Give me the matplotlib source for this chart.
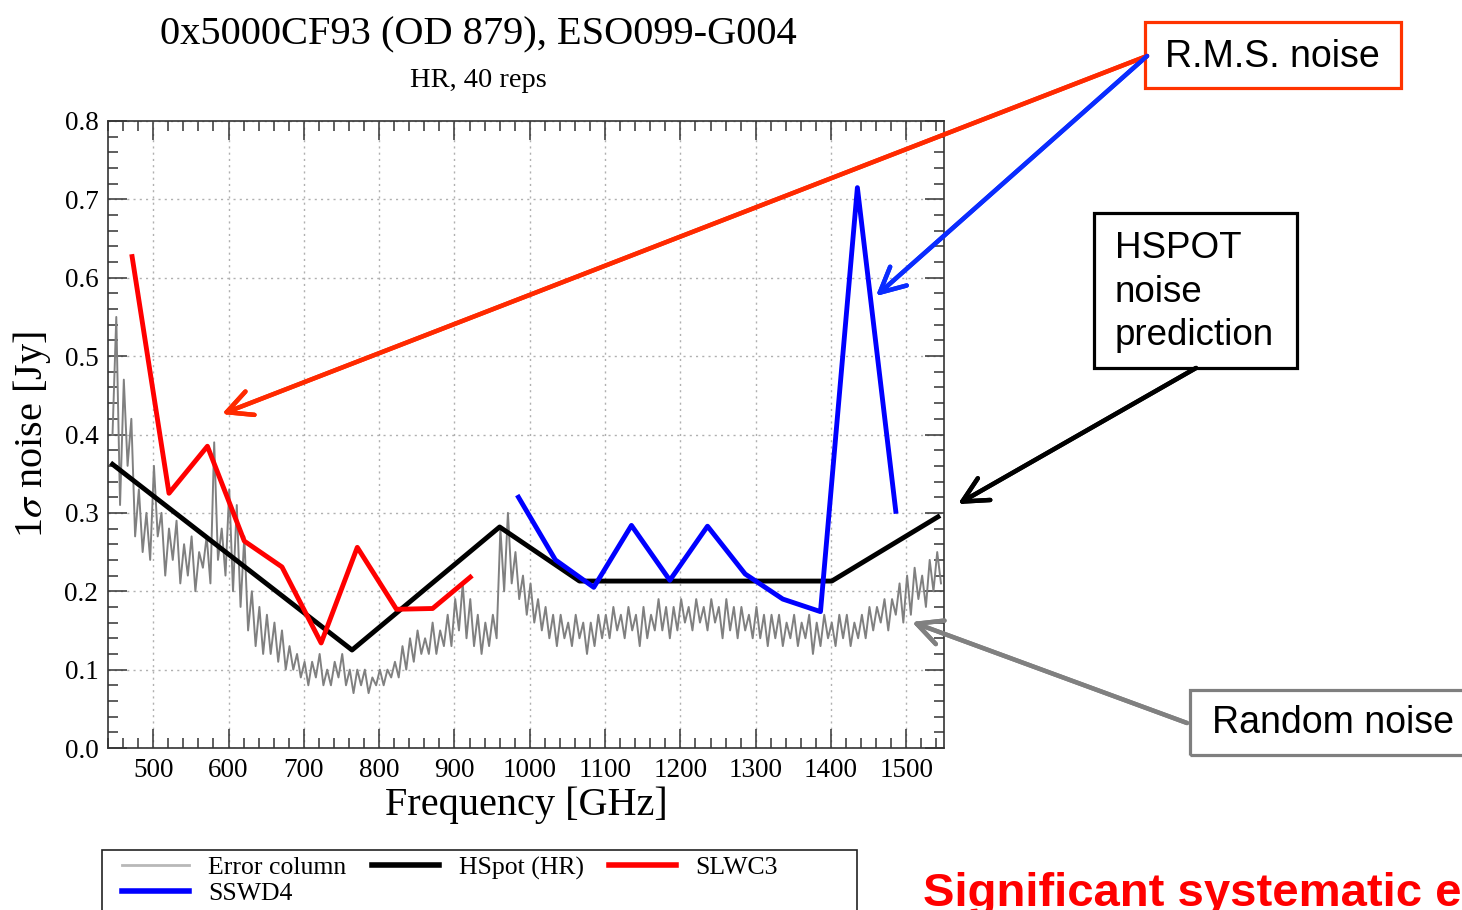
import matplotlib
matplotlib.use("Agg")
import matplotlib.pyplot as plt
from matplotlib.lines import Line2D
from matplotlib.patches import Rectangle
import numpy as np

plt.rcParams['font.family'] = ['Liberation Serif', 'DejaVu Serif']
plt.rcParams['mathtext.fontset'] = 'stix'

W, H = 1462, 910

# error column (random noise), every 5 GHz from 446 to 1546 GHz
err_noise = [
    0.40, 0.55, 0.31, 0.47, 0.36, 0.42, 0.27, 0.33, 0.25, 0.30, 0.24,
    0.36, 0.27, 0.30, 0.22, 0.28, 0.24, 0.29, 0.21, 0.26, 0.22, 0.27, 0.20, 0.25, 0.23, 0.27, 0.21, 0.39, 0.24, 0.28, 0.22,
    0.33, 0.20, 0.31, 0.18, 0.27, 0.15, 0.20, 0.13, 0.18, 0.12, 0.17, 0.12, 0.16, 0.11, 0.15, 0.10, 0.13, 0.10, 0.12, 0.09,
    0.11, 0.08, 0.11, 0.09, 0.12, 0.08, 0.10, 0.08, 0.11, 0.09, 0.12, 0.08, 0.10, 0.07, 0.10, 0.08, 0.10, 0.07, 0.09, 0.08,
    0.10, 0.08, 0.10, 0.09, 0.11, 0.09, 0.13, 0.10, 0.14, 0.11, 0.15, 0.12, 0.14, 0.12, 0.16, 0.12, 0.15, 0.13, 0.17, 0.13,
    0.19, 0.15, 0.21, 0.14, 0.19, 0.13, 0.17, 0.12, 0.16, 0.13, 0.17, 0.14, 0.28, 0.20, 0.30, 0.21, 0.25, 0.19, 0.22, 0.17,
    0.21, 0.16, 0.19, 0.15, 0.18, 0.14, 0.17, 0.13, 0.17, 0.14, 0.16, 0.13, 0.17, 0.14, 0.16, 0.12, 0.16, 0.13, 0.17, 0.14,
    0.17, 0.14, 0.18, 0.15, 0.17, 0.14, 0.18, 0.15, 0.17, 0.13, 0.18, 0.14, 0.17, 0.15, 0.19, 0.15, 0.18, 0.14, 0.18, 0.15,
    0.19, 0.16, 0.18, 0.15, 0.19, 0.16, 0.18, 0.15, 0.19, 0.16, 0.18, 0.14, 0.19, 0.15, 0.18, 0.14, 0.18, 0.15, 0.17, 0.14,
    0.18, 0.14, 0.17, 0.13, 0.17, 0.14, 0.17, 0.13, 0.16, 0.14, 0.17, 0.13, 0.16, 0.14, 0.17, 0.12, 0.16, 0.13, 0.17, 0.14,
    0.16, 0.13, 0.17, 0.14, 0.17, 0.13, 0.16, 0.14, 0.17, 0.14, 0.18, 0.15, 0.18, 0.16, 0.19, 0.15, 0.19, 0.17, 0.21, 0.16,
    0.22, 0.17, 0.23, 0.19, 0.22, 0.18, 0.24, 0.20, 0.25, 0.21,
]
err_freq = np.linspace(446, 1546, len(err_noise))

hspot_freq = [446, 764, 960, 1066, 1401, 1542]
hspot_noise = [0.362, 0.125, 0.282, 0.213, 0.213, 0.295]

slw_freq = [472, 521, 572, 621, 671, 723, 771, 823, 871, 921]
slw_noise = [0.627, 0.325, 0.385, 0.264, 0.231, 0.134, 0.256, 0.177, 0.178, 0.218]

ssw_freq = [985, 1034, 1085, 1135, 1186, 1236, 1286, 1336, 1386, 1435, 1486]
ssw_noise = [0.32, 0.24, 0.205, 0.284, 0.214, 0.283, 0.222, 0.19, 0.174, 0.715, 0.302]


def fx(px):
    return px / W


def fy(py):
    return 1 - py / H


fig = plt.figure(figsize=(W / 100, H / 100), dpi=100)
ax = fig.add_axes([fx(108), fy(748), (944 - 108) / W, (748 - 121) / H])

ax.plot(err_freq, err_noise, color='#808080', lw=1.4, zorder=2)
ax.plot(hspot_freq, hspot_noise, color='black', lw=3.5, zorder=3)
ax.plot(slw_freq, slw_noise, color='#ff0000', lw=3.5, zorder=4)
ax.plot(ssw_freq, ssw_noise, color='#0000ff', lw=3.5, zorder=5)

ax.set_xlim(440, 1550)
ax.set_ylim(0, 0.8)
ax.set_xticks(np.arange(500, 1501, 100))
ax.set_xticks(np.arange(440, 1551, 20), minor=True)
ax.set_yticks(np.arange(0, 0.81, 0.1))
ax.set_yticks(np.arange(0, 0.81, 0.02), minor=True)
ax.set_yticklabels(['%.1f' % v for v in np.arange(0, 0.81, 0.1)])
ax.tick_params(which='both', direction='in', top=True, right=True,
               labelsize=19.5, color='#333333')
ax.tick_params(which='major', length=14, width=1.1, pad=7)
ax.tick_params(which='minor', length=7, width=1.1)
ax.grid(True, which='major', ls=(0, (1.5, 3)), color='#b0b0b0', lw=1)
for s in ax.spines.values():
    s.set_linewidth(1.2)
    s.set_color('#333333')

ax.set_xlabel('Frequency [GHz]', fontsize=29, labelpad=3)
ax.set_ylabel(r'1$\sigma$ noise [Jy]', fontsize=29, labelpad=8)

fig.text(fx(478), fy(44), '0x5000CF93 (OD 879), ESO099-G004', fontsize=29.2,
         ha='center', va='baseline')
fig.text(fx(478), fy(87), 'HR, 40 reps', fontsize=20.5, ha='center', va='baseline')

# legend: order chosen so the columns read row by row like the original
handles = [
    Line2D([], [], color='#b8b8b8', lw=2),
    Line2D([], [], color='#0000ff', lw=4),
    Line2D([], [], color='black', lw=4),
    Line2D([], [], color='#ff0000', lw=4),
]
labels = ['Error column', 'SSWD4', 'HSpot (HR)', 'SLWC3']
leg = fig.legend(handles, labels, loc='upper left',
                 bbox_to_anchor=(fx(116), fy(850)),
                 ncol=3, fontsize=18.5, frameon=False, handlelength=2.6,
                 handletextpad=0.75, columnspacing=1.0,
                 labelspacing=0.12, borderpad=0.25, borderaxespad=0)
fig.patches.append(Rectangle((fx(102), fy(915)), (857 - 102) / W, 65 / H,
                             transform=fig.transFigure, fill=False,
                             edgecolor='#222222', lw=1.2))

# slide annotations
sans = ['Liberation Sans', 'DejaVu Sans']
boxes = [
    (1145, 22, 1401, 88, '#ff3300'),
    (1094, 213, 1297, 368, 'black'),
    (1190, 690, 1475, 755, '#7f7f7f'),
]
for x0, y0, x1, y1, c in boxes:
    fig.patches.append(Rectangle((fx(x0), fy(y1)), (x1 - x0) / W, (y1 - y0) / H,
                                 transform=fig.transFigure, fill=False,
                                 edgecolor=c, lw=2.3))

fig.text(fx(1272), fy(57), 'R.M.S. noise', family=sans, fontsize=27,
         ha='center', va='center')
fig.text(fx(1115), fy(292), 'HSPOT\nnoise\nprediction', family=sans,
         fontsize=26.5, ha='left', va='center', linespacing=1.3)
fig.text(fx(1212), fy(723), 'Random noise', family=sans, fontsize=27,
         ha='left', va='center')
fig.text(fx(923), fy(906), 'Significant systematic errors', family=sans,
         fontsize=34, weight='bold', color='#ff0000', ha='left', va='baseline')

arrows = [
    ((1147, 56), (222, 414), '#ff2a00'),
    ((1147, 56), (876, 296), '#0a2cff'),
    ((1196, 368), (958, 504), 'black'),
    ((1187, 723), (912, 622), '#808080'),
]
for (sx, sy), (tx, ty), c in arrows:
    fig.add_artist(plt.annotate('', xy=(fx(tx), fy(ty)), xycoords='figure fraction',
                                xytext=(fx(sx), fy(sy)), textcoords='figure fraction',
                                arrowprops=dict(arrowstyle='->,head_length=0.9,head_width=0.45',
                                                lw=3.2, color=c, mutation_scale=20,
                                                shrinkA=0, shrinkB=0)))

fig.savefig('out.png', dpi=100)
